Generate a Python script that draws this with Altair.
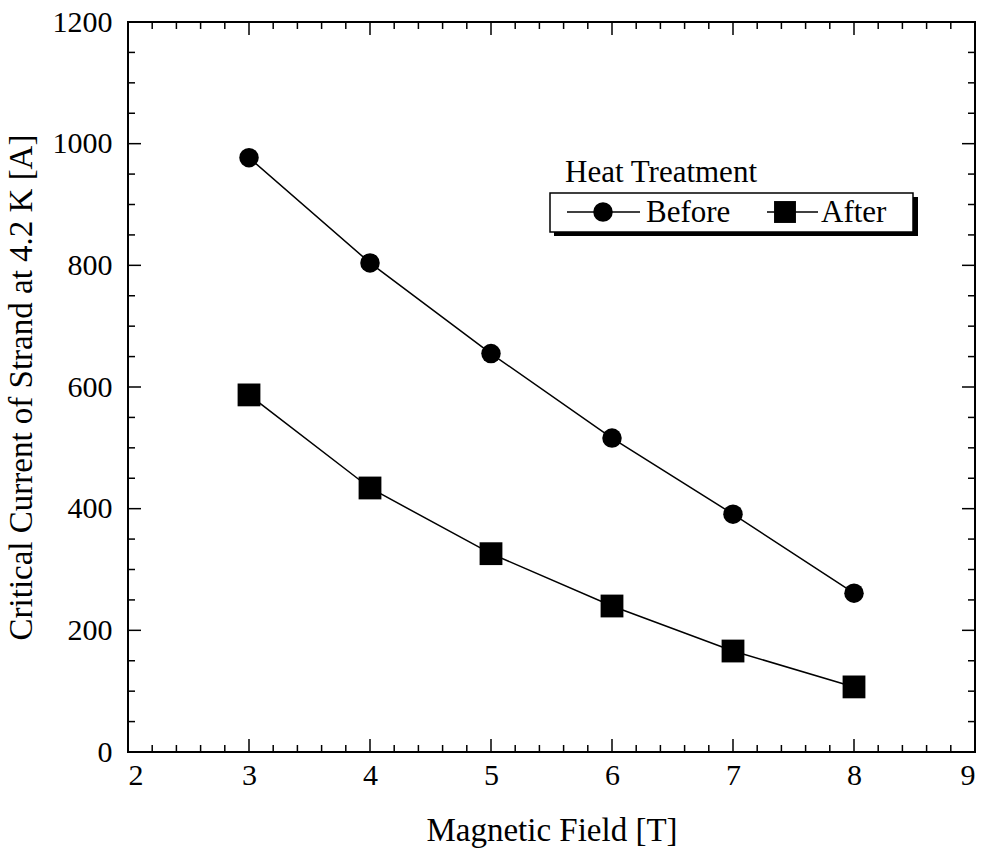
import altair as alt
import pandas as pd

# ---- data ----
field = [3, 4, 5, 6, 7, 8]
before = [977, 804, 655, 516, 391, 261]
after = [587, 434, 326, 240, 166, 107]

x_major = [2, 3, 4, 5, 6, 7, 8, 9]
x_minor = [round(2 + 0.2 * i, 1) for i in range(36) if i % 5 != 0]
y_major = [0, 200, 400, 600, 800, 1000, 1200]
y_minor = [50 * i for i in range(25) if i % 4 != 0]

legend_title = "Heat Treatment"
series_names = ["Before", "After"]

W, H = 847, 730
FONT = "Liberation Serif"

xs = alt.Scale(domain=[2, 9], nice=False, zero=False)
ys = alt.Scale(domain=[0, 1200], nice=False)

df = pd.DataFrame({"field": field * 2,
                   "ic": before + after,
                   "series": ["Before"] * 6 + ["After"] * 6})

x_axis = alt.Axis(values=x_major, format="d", ticks=False, domain=False, grid=False,
                  tickSize=0, labelPadding=8, labelFontSize=30, labelFont=FONT,
                  labelColor="black", title="Magnetic Field [T]", titleFont=FONT,
                  titleFontSize=33, titleFontWeight="normal", titleColor="black",
                  titlePadding=24)
y_axis = alt.Axis(values=y_major, format="d", ticks=False, domain=False, grid=False,
                  tickSize=0, labelPadding=16, labelFontSize=30, labelFont=FONT,
                  labelColor="black", title="Critical Current of Strand at 4.2 K [A]",
                  titleFont=FONT, titleFontSize=33, titleFontWeight="normal",
                  titleColor="black", titlePadding=14)

base = alt.Chart(df)
lines = base.mark_line(color="black", strokeWidth=1.5).encode(
    x=alt.X("field:Q", scale=xs, axis=x_axis),
    y=alt.Y("ic:Q", scale=ys, axis=y_axis),
    detail="series:N",
)
pts_b = base.transform_filter(alt.datum.series == "Before").mark_point(
    shape="circle", filled=True, color="black", size=380, opacity=1).encode(
    x=alt.X("field:Q", scale=xs), y=alt.Y("ic:Q", scale=ys))
pts_a = base.transform_filter(alt.datum.series == "After").mark_point(
    shape="square", filled=True, color="black", size=520, opacity=1).encode(
    x=alt.X("field:Q", scale=xs), y=alt.Y("ic:Q", scale=ys))

# ---- inward ticks ----
def xticks(vals, length):
    d = pd.DataFrame({"v": vals})
    bot = alt.Chart(d).mark_rule(color="black", strokeWidth=1.5).encode(
        x=alt.X("v:Q", scale=xs), y=alt.value(H), y2=alt.value(H - length))
    top = alt.Chart(d).mark_rule(color="black", strokeWidth=1.5).encode(
        x=alt.X("v:Q", scale=xs), y=alt.value(0), y2=alt.value(length))
    return [bot, top]

def yticks(vals, length):
    d = pd.DataFrame({"v": vals})
    left = alt.Chart(d).mark_rule(color="black", strokeWidth=1.5).encode(
        y=alt.Y("v:Q", scale=ys), x=alt.value(0), x2=alt.value(length))
    right = alt.Chart(d).mark_rule(color="black", strokeWidth=1.5).encode(
        y=alt.Y("v:Q", scale=ys), x=alt.value(W), x2=alt.value(W - length))
    return [left, right]

ticks = xticks(x_major, 13) + xticks(x_minor, 7) + yticks(y_major, 13) + yticks(y_minor, 7)

# ---- legend (drawn by hand) ----
one = pd.DataFrame({"k": [0]})
lg = alt.Chart(one)
shadow = lg.mark_rect(color="black").encode(
    x=alt.value(426), x2=alt.value(790), y=alt.value(175), y2=alt.value(214))
box = lg.mark_rect(fill="white", stroke="black", strokeWidth=1.5).encode(
    x=alt.value(422), x2=alt.value(785), y=alt.value(171), y2=alt.value(210))
ltitle = lg.mark_text(align="left", baseline="alphabetic", font=FONT, fontSize=31,
                      color="black").encode(
    x=alt.value(437), y=alt.value(160), text=alt.value(legend_title))
l1 = lg.mark_rule(color="black", strokeWidth=1.5).encode(
    x=alt.value(439), x2=alt.value(512), y=alt.value(190))
m1 = lg.mark_point(shape="circle", filled=True, color="black", size=380, opacity=1).encode(
    x=alt.value(475), y=alt.value(190))
t1 = lg.mark_text(align="left", baseline="middle", font=FONT, fontSize=31,
                  color="black").encode(
    x=alt.value(518), y=alt.value(191), text=alt.value(series_names[0]))
l2 = lg.mark_rule(color="black", strokeWidth=1.5).encode(
    x=alt.value(639), x2=alt.value(690), y=alt.value(190))
m2 = lg.mark_point(shape="square", filled=True, color="black", size=480, opacity=1).encode(
    x=alt.value(657), y=alt.value(190))
t2 = lg.mark_text(align="left", baseline="middle", font=FONT, fontSize=31,
                  color="black").encode(
    x=alt.value(693), y=alt.value(191), text=alt.value(series_names[1]))

chart = alt.layer(
    *ticks, lines, pts_b, pts_a, shadow, box, ltitle, l1, m1, t1, l2, m2, t2
).properties(
    width=W, height=H,
    autosize=alt.AutoSizeParams(type="none"),
    padding={"left": 128, "top": 22, "right": 20, "bottom": 101},
    background="white",
).configure_view(stroke="black", strokeWidth=2)

chart.save("out.html", embed_options={"renderer": "svg", "actions": False})
